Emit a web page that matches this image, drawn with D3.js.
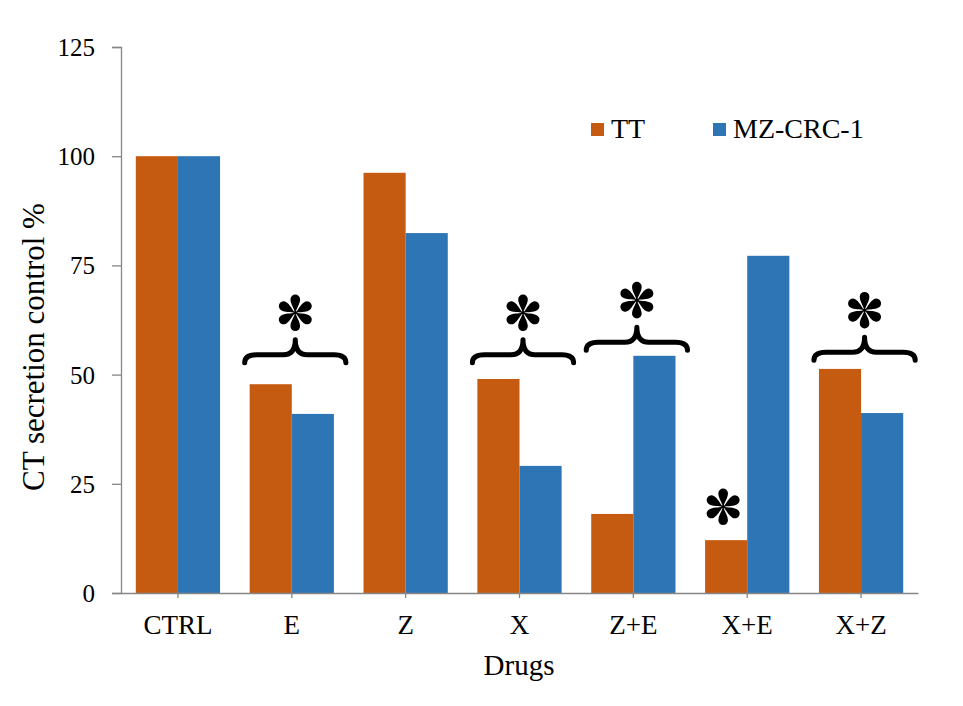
<!DOCTYPE html>
<html><head><meta charset="utf-8">
<script src="https://cdn.jsdelivr.net/npm/d3@7/dist/d3.min.js"></script>
<style>body{margin:0;background:#fff}svg{display:block}
svg text{font-family:"Liberation Serif","Times New Roman",Times,"DejaVu Serif",serif !important;}</style>
</head><body>
<svg id="c" width="963" height="706"></svg>
<script>
const categories = ["CTRL","E","Z","X","Z+E","X+E","X+Z"];
const seriesNames = ["TT","MZ-CRC-1"];
const ttValues = [100, 47.8, 96.2, 49.0, 18.1, 12.1, 51.3];
const mzValues = [100, 41.0, 82.4, 29.1, 54.3, 77.2, 41.2];
const yTicks = [0, 25, 50, 75, 100, 125];
// significance annotations: brace groups (category, level of brace ends in data units)
const braceGroups = ["E","X","Z+E","X+Z"];
const braceLevels = [52.7, 52.7, 55.6, 53.3];
const starOnly = ["X+E"];
const starOnlyLevels = [17.9];

const colors = ["#C55A11", "#2E75B6"];
const svg = d3.select("#c");
const m = {l:121, r:45, t:47, b:113};
const W = 963, H = 706;
const x = d3.scaleBand().domain(categories).range([m.l, W - m.r]).paddingInner(0.26).paddingOuter(0.13);
const xs = d3.scaleBand().domain(seriesNames).range([0, x.bandwidth()]);
const y = d3.scaleLinear().domain([0, 125]).range([H - m.b, m.t]);
const font = '"Liberation Serif","Times New Roman",Times,serif';

const g = svg.append("g");
categories.forEach((c, i) => {
  [ttValues[i], mzValues[i]].forEach((v, j) => {
    g.append("rect").attr("x", x(c) + xs(seriesNames[j])).attr("y", y(v))
      .attr("width", xs.bandwidth()).attr("height", y(0) - y(v)).attr("fill", colors[j]);
  });
});

// y axis
const ya = svg.append("g").attr("transform", `translate(${m.l},0)`)
  .call(d3.axisLeft(y).tickValues(yTicks).tickSize(9).tickPadding(17));
ya.attr("font-family", null);
ya.select(".domain").attr("stroke", "#868686").attr("stroke-width", 1.3);
ya.selectAll(".tick line").attr("stroke", "#868686").attr("stroke-width", 1.3);
ya.selectAll("text").style("font-family", font).attr("font-size", 25).attr("fill", "#000").attr("dy", "0.34em");

// x axis
const xa = svg.append("g").attr("transform", `translate(0,${y(0)})`)
  .call(d3.axisBottom(x).tickSize(5).tickSizeOuter(0));
xa.attr("font-family", null);
xa.select(".domain").attr("stroke", "#868686").attr("stroke-width", 1.3);
xa.selectAll(".tick line").attr("stroke", "#868686").attr("stroke-width", 1.3);
xa.selectAll("text").style("font-family", font).attr("font-size", 27).attr("fill", "#000")
  .attr("y", 41).attr("dy", 0);

// titles
svg.append("text").attr("x", 519).attr("y", 675).attr("text-anchor", "middle")
  .style("font-family", font).attr("font-size", 29).text("Drugs");
svg.append("text").attr("transform", `translate(44,347) rotate(-90)`)
  .attr("text-anchor", "middle").style("font-family", font).attr("font-size", 31)
  .text("CT secretion control %");

// legend
const lg = svg.append("g");
const legX = [591, 713];
seriesNames.forEach((s, j) => {
  lg.append("rect").attr("x", legX[j]).attr("y", 123).attr("width", 13).attr("height", 13).attr("fill", colors[j]);
  lg.append("text").attr("x", legX[j] + 20).attr("y", 138).style("font-family", font).attr("font-size", 28).text(s);
});

// braces and stars
function bracePath(x0, x1, yEnd) {
  const cx = (x0 + x1) / 2, yMid = yEnd - 8, yTip = yEnd - 23, r = 12;
  return `M${x0},${yEnd} Q${x0},${yMid} ${x0 + r},${yMid} L${cx - r},${yMid} Q${cx},${yMid} ${cx},${yTip}` +
         ` Q${cx},${yMid} ${cx + r},${yMid} L${x1 - r},${yMid} Q${x1},${yMid} ${x1},${yEnd}`;
}
const petal = "M0,0 C-1.6,-5 -4.8,-9 -4.8,-13.5 A4.8,4.8 0 0 1 4.8,-13.5 C4.8,-9 1.6,-5 0,0 Z";
function star(cx, cy) {
  const s = svg.append("g").attr("transform", `translate(${cx},${cy})`);
  [0, 60, 120, 180, 240, 300].forEach(a => {
    s.append("path").attr("d", petal).attr("transform", `rotate(${a})`).attr("fill", "#000");
  });
  s.append("circle").attr("r", 1.8).attr("fill", "#000");
}
braceGroups.forEach((c, i) => {
  const x0 = x(c) - 5, x1 = x(c) + x.bandwidth() + 12;
  const ye = y(braceLevels[i]);
  svg.append("path").attr("d", bracePath(x0, x1, ye)).attr("fill", "none")
    .attr("stroke", "#000").attr("stroke-width", 5).attr("stroke-linecap", "round").attr("stroke-linejoin", "round");
  star((x0 + x1) / 2, ye - 50);
});
starOnly.forEach((c, i) => {
  star(x(c) + xs.bandwidth() / 2 - 3, y(starOnlyLevels[i]) - 8);
});
</script>
</body></html>
